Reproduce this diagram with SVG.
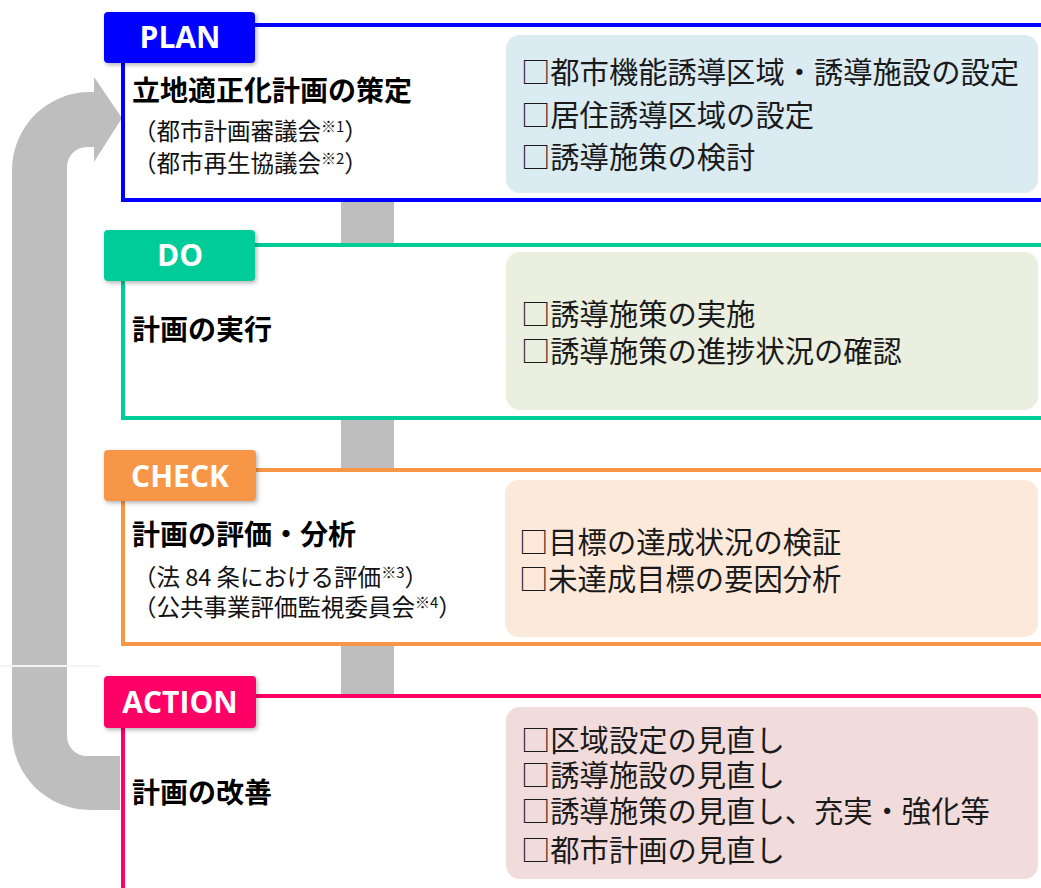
<svg xmlns="http://www.w3.org/2000/svg" width="1041" height="888" viewBox="0 0 1041 888">
<style>
.tab{font-family:"Open Sans","DejaVu Sans",sans-serif;font-weight:700;font-size:30px;fill:#fff;text-anchor:middle}
.ttl{font-family:"Noto Sans CJK JP",sans-serif;font-weight:700;font-size:28px;fill:#000}
.sub{font-family:"Noto Sans CJK JP",sans-serif;font-size:23.5px;fill:#111}
.sup{font-size:15px}
.item{font-family:"Noto Sans CJK JP",sans-serif;font-size:29.3px;fill:#1a1a1a}
.frame{fill:#fff;stroke-width:4}
</style>
<defs>
<filter id="sh" x="-10%" y="-20%" width="130%" height="150%">
<feDropShadow dx="1.5" dy="2" stdDeviation="2" flood-color="#000" flood-opacity="0.3"/>
</filter>
</defs>
<rect width="1041" height="888" fill="#fff"/>
<g id="connectors">
<rect x="341" y="195" width="53" height="505" fill="#bebebe"/>
<path d="M120 810 L90 810 A78 78 0 0 1 12 732 L12 170 A78 78 0 0 1 90 92 L94 92 L94 77 L122 118 L94 162 L94 147 L87 147 A20 20 0 0 0 67 167 L67 736 A20 20 0 0 0 87 756 L120 756 Z" fill="#bebebe"/>
<rect x="0" y="665" width="100" height="2" fill="#f4f4f4"/>
</g>
<g id="plan">
<rect class="frame" x="123" y="25" width="940" height="175" stroke="#0000ff"/>
<rect x="506" y="35" width="532" height="158" rx="14" fill="#daebf2"/>
<rect x="104" y="12" width="151" height="51" rx="4" fill="#0000ff" filter="url(#sh)"/>
<text class="tab" x="180" y="48">PLAN</text>
<text class="ttl" x="132" y="101">立地適正化計画の策定</text>
<text class="sub" x="133" y="140">（都市計画審議会<tspan class="sup" dy="-8">※1</tspan><tspan dy="8">）</tspan></text>
<text class="sub" x="133" y="172">（都市再生協議会<tspan class="sup" dy="-8">※2</tspan><tspan dy="8">）</tspan></text>
<text class="item" x="521" y="83">□都市機能誘導区域・誘導施設の設定</text>
<text class="item" x="521" y="126">□居住誘導区域の設定</text>
<text class="item" x="521" y="168">□誘導施策の検討</text>
</g>
<g id="do">
<rect class="frame" x="123" y="245" width="940" height="173" stroke="#00cc99"/>
<rect x="506" y="252" width="532" height="158" rx="14" fill="#eaefe0"/>
<rect x="104" y="230" width="151" height="51" rx="4" fill="#00cc99" filter="url(#sh)"/>
<text class="tab" x="180" y="266">DO</text>
<text class="ttl" x="132" y="340">計画の実行</text>
<text class="item" x="521" y="325">□誘導施策の実施</text>
<text class="item" x="521" y="362">□誘導施策の進捗状況の確認</text>
</g>
<g id="check">
<rect class="frame" x="123" y="470" width="940" height="174" stroke="#f79646"/>
<rect x="505" y="480" width="533" height="157" rx="14" fill="#fde9da"/>
<rect x="104" y="450" width="152" height="51" rx="4" fill="#f79646" filter="url(#sh)"/>
<text class="tab" x="180" y="487">CHECK</text>
<text class="ttl" x="132" y="545">計画の評価・分析</text>
<text class="sub" x="133" y="586">（法 84 条における評価<tspan class="sup" dy="-8">※3</tspan><tspan dy="8">）</tspan></text>
<text class="sub" x="133" y="616">（公共事業評価監視委員会<tspan class="sup" dy="-8">※4</tspan><tspan dy="8">）</tspan></text>
<text class="item" x="519" y="553">□目標の達成状況の検証</text>
<text class="item" x="519" y="590">□未達成目標の要因分析</text>
</g>
<g id="action">
<rect class="frame" x="123" y="696" width="940" height="220" stroke="#ff0066"/>
<rect x="506" y="707" width="532" height="172" rx="14" fill="#f2dcdb"/>
<rect x="104" y="676" width="152" height="52" rx="4" fill="#ff0066" filter="url(#sh)"/>
<text class="tab" x="180" y="713">ACTION</text>
<text class="ttl" x="132" y="803">計画の改善</text>
<text class="item" x="521" y="751">□区域設定の見直し</text>
<text class="item" x="521" y="786">□誘導施設の見直し</text>
<text class="item" x="521" y="822">□誘導施策の見直し、充実・強化等</text>
<text class="item" x="521" y="861">□都市計画の見直し</text>
</g>
</svg>
